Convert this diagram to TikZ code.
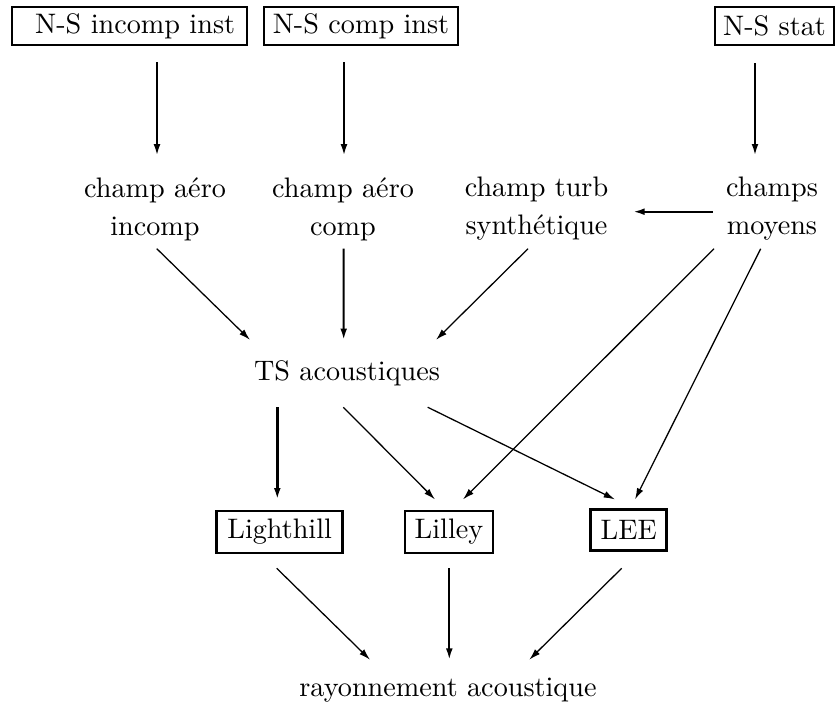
\documentclass[tikz,border=0pt]{standalone}
\usetikzlibrary{arrows.meta,calc}
% one drawing unit
\def\PX{0.3546pt}
\begin{document}
\begin{tikzpicture}[x=\PX,y=-\PX,
  box/.style={draw, line width=0.9pt, inner sep=0pt, minimum height=38*\PX},
  lbl/.style={inner sep=0pt, align=center, font=\fontsize{10pt}{13.47pt}\selectfont},
  txt/.style={inner sep=0pt, anchor=base},
  arr/.style={-{Latex[length=4pt,width=2.4pt]}, line width=0.45pt},
  vert/.style={arr, line width=0.7pt},
  heavy/.style={arr, line width=1.05pt}]
\useasboundingbox (0,0) rectangle (836,709);

% solvers
\node[box, minimum width=235*\PX] (nsi) at (129.5,26) {\hspace*{4pt}N-S incomp inst};
\node[box, minimum width=194*\PX] (nsc) at (361,26) {N-S comp inst};
\node[box, minimum width=119*\PX] (nss) at (774.5,26) {N-S stat};

% fields
\node[lbl] (ai) at (155,209) {champ aéro\\incomp};
\node[lbl] (ac) at (343,209) {champ aéro\\comp};
\node[lbl] (ct) at (536.5,209) {champ turb\\synthétique};
\node[lbl] (cm) at (772,209) {champs\\moyens};

% sources
\node[txt] (ts) at (347,381) {TS acoustiques};

% propagation models
\node[box, minimum width=126*\PX, minimum height=42*\PX] (li) at (279.7,532) {Lighthill};
\node[box, minimum width=88*\PX, minimum height=42*\PX] (ly) at (449,532) {Lilley};
\node[box, minimum width=76*\PX, minimum height=41*\PX] (le) at (628.7,530) {LEE};

\node[txt] (ra) at (448,697) {rayonnement acoustique};

% solvers -> fields
\draw[vert] ($(nsi.south -| ai.north)+(2,16)$) -- ($(ai.north)+(2,-21.4)$);
\draw[vert] ($(nsc.south -| ac.north)+(1,16)$) -- ($(ac.north)+(1,-21.4)$);
\draw[vert] ($(nss.south -| cm.north)+(-17,17)$) -- ($(cm.north)+(-17,-21.4)$);
\draw[vert] ($(cm.west)+(-13,2.7)$) -- ($(ct.east)+(24.5,2.7)$);

% fields -> sources
\draw[arr] ($(ai.south)+(1.7,7.5)$) -- ($(ts.north)+(-97,-20.7)$);
\draw[vert] ($(ac.south)+(0.7,7.5)$) -- ($(ts.north)+(-3.3,-20.7)$);
\draw[arr] ($(ct.south)+(-8.5,7.5)$) -- ($(ts.north)+(89,-20.7)$);

% mean fields -> models
\draw[arr] ($(cm.south)+(-58,7.5)$) -- ($(ly.north)+(14,-10.3)$);
\draw[arr] ($(cm.south)+(-11.3,7.5)$) -- ($(le.north)+(6.3,-8.8)$);

% sources -> models
\draw[heavy] ($(ts.south -| li.north)+(-2.4,20.2)$) -- ($(li.north)+(-2.4,-10.3)$);
\draw[arr] ($(ts.south)+(-3.7,20.2)$) -- ($(ly.north)+(-14,-10.3)$);
\draw[arr] ($(ts.south)+(80.7,20.2)$) -- ($(le.north)+(-13.7,-8.8)$);

% models -> radiation
\draw[arr] ($(li.south)+(-3,14)$) -- ($(ra.north)+(-78,-18.2)$);
\draw[vert] ($(ly.south)+(0.3,14)$) -- ($(ra.north)+(1.3,-18.2)$);
\draw[arr] ($(le.south)+(-7,16.5)$) -- ($(ra.north)+(81.3,-18.2)$);
\end{tikzpicture}
\end{document}
